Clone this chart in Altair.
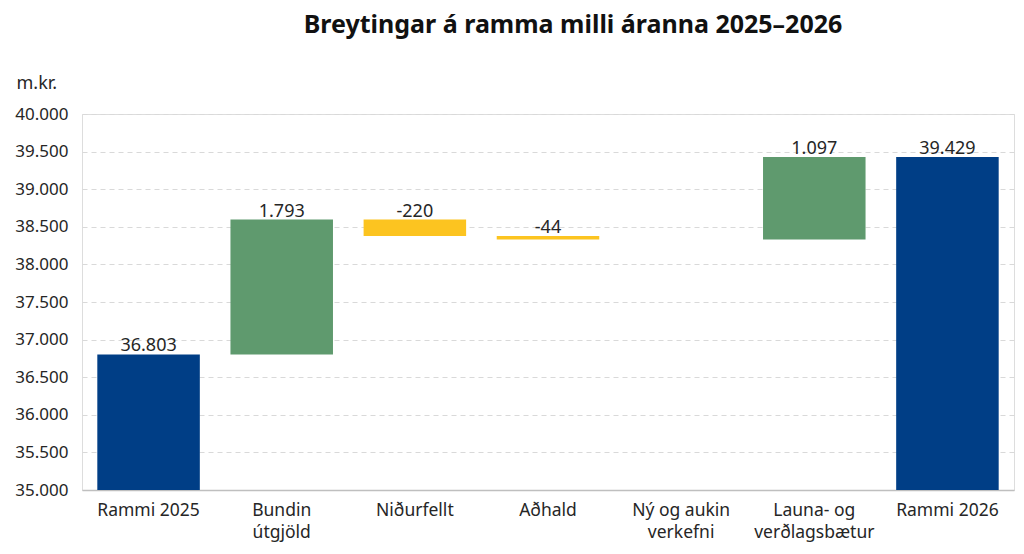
import pandas as pd
import altair as alt

categories = ["Rammi 2025", "Bundin|útgjöld", "Niðurfellt", "Aðhald",
              "Ný og aukin|verkefni", "Launa- og|verðlagsbætur", "Rammi 2026"]
amounts = [36803, 1793, -220, -44, 0, 1097, 39429]
kinds = ["total", "up", "down", "down", "up", "up", "total"]
value_labels = ["36.803", "1.793", "-220", "-44", "", "1.097", "39.429"]
y_ticks = [35000, 35500, 36000, 36500, 37000, 37500, 38000, 38500,
           39000, 39500, 40000]

# build waterfall start/end
rows = []
running = 0
for cat, amt, kind, lab in zip(categories, amounts, kinds, value_labels):
    if kind == "total":
        start, end = 35000, amt
        running = amt
    else:
        start, end = running, running + amt
        running = end
    rows.append({"cat": cat, "start": start, "end": end, "top": max(start, end),
                 "kind": kind, "label": lab})
df = pd.DataFrame(rows)

font = "Noto Sans"

y_scale = alt.Scale(domain=[35000, 40000], nice=False, zero=False)
y_axis = alt.Axis(
    title="m.kr.",
    titleAngle=0,
    titleAlign="left",
    titleBaseline="middle",
    titleX=-66,
    titleY=-31,
    titleFontSize=18,
    titleFontWeight="normal",
    titleFont=font,
    titleColor="#262626",
    values=y_ticks,
    tickCount=11,
    labelExpr="replace(format(datum.value, ',d'), ',', '.')",
    labelOverlap=False,
    labelFontSize=17,
    labelColor="#262626",
    labelFont=font,
    labelPadding=14,
    ticks=False,
    domain=False,
    gridColor="#D9D9D9",
    gridDash=[5, 4],
)

base = alt.Chart(df).encode(
    x=alt.X(
        "cat:N",
        sort=categories,
        scale=alt.Scale(paddingInner=0.23, paddingOuter=0.115),
        axis=alt.Axis(
            title=None,
            labelAngle=0,
            labelExpr="split(datum.label, '|')",
            labelFontSize=17.5,
            labelLineHeight=22,
            labelColor="#262626",
            labelFont=font,
            labelPadding=11,
            ticks=False,
            domainColor="#BFBFBF",
            domainWidth=1.5,
        ),
    )
)

bars = base.mark_bar().encode(
    y=alt.Y("start:Q", scale=y_scale, axis=y_axis),
    y2="end:Q",
    color=alt.Color(
        "kind:N",
        scale=alt.Scale(domain=["total", "up", "down"],
                        range=["#003E86", "#5F9A6E", "#FCC420"]),
        legend=None,
    ),
)

texts = base.mark_text(
    baseline="bottom", dy=1, fontSize=18, font=font, color="#262626"
).encode(
    y=alt.Y("top:Q", scale=y_scale, axis=y_axis),
    text="label:N",
)

chart = (
    (bars + texts)
    .properties(
        width=932,
        height=376,
        autosize=alt.AutoSizeParams(type="none"),
        padding={"left": 74, "top": 106, "right": 2, "bottom": 56},
        title=alt.TitleParams(
            "Breytingar á ramma milli áranna 2025–2026",
            fontSize=25,
            font=font,
            fontWeight="bold",
            color="#111111",
            dx=25,
            offset=36,
        ),
    )
    .configure_view(stroke=None)
    .configure(background="white")
)

chart.save("out.html", embed_options={"renderer": "svg", "actions": False})
